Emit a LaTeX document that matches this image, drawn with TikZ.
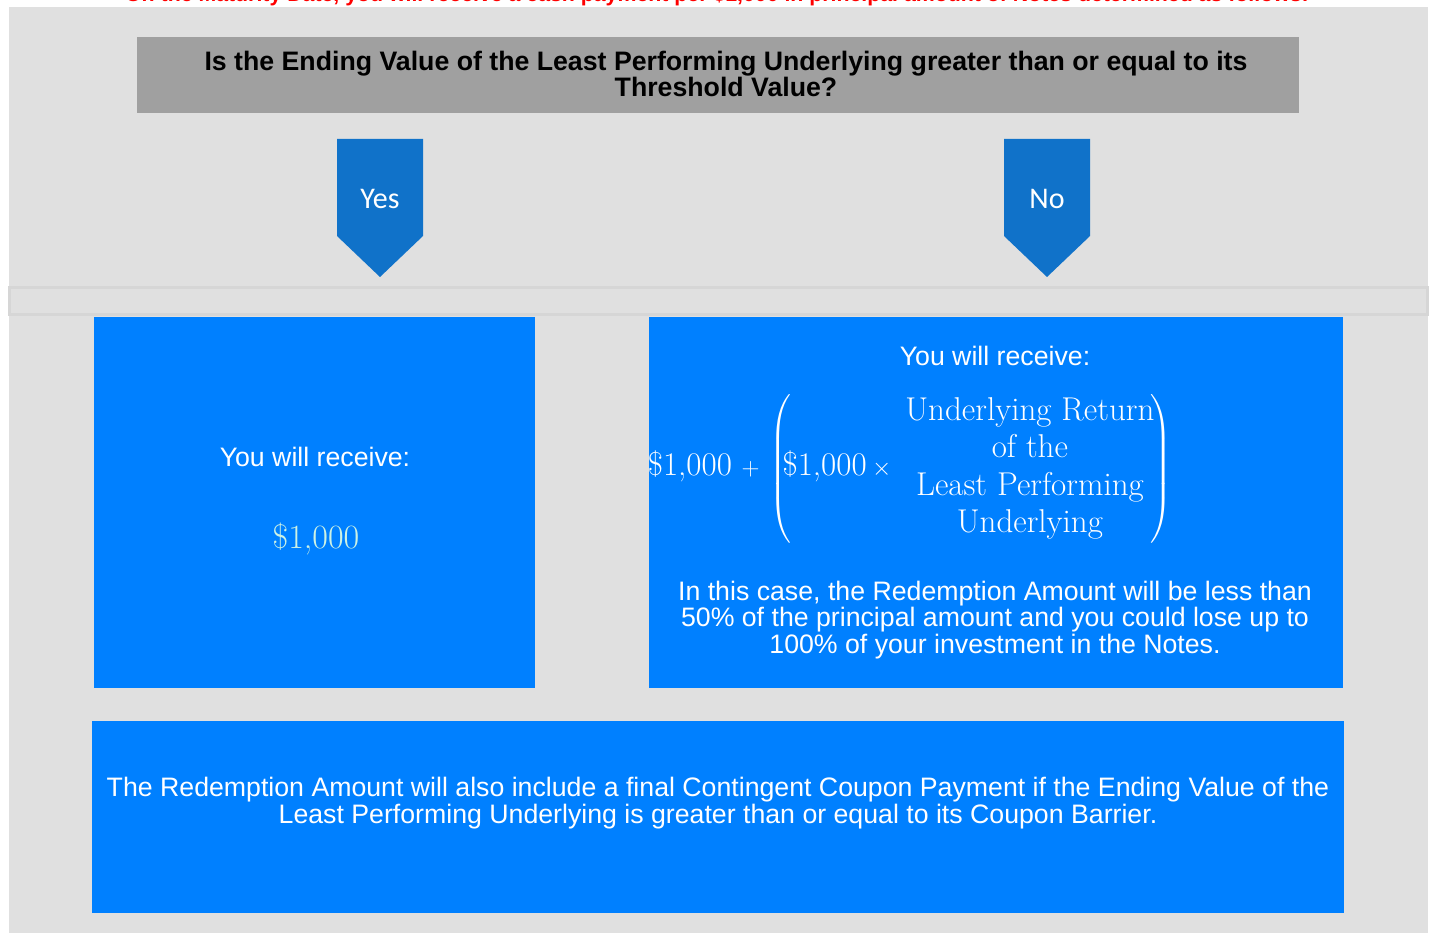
\documentclass[tikz,border=0pt]{standalone}
\usepackage{fontspec}
\usepackage{amsmath}
\newfontfamily\arialf{Liberation Sans}
\newfontfamily\calib{Carlito}
\definecolor{bggray}{RGB}{224,224,224}
\definecolor{bandline}{RGB}{214,214,214}
\definecolor{headgray}{RGB}{160,160,160}
\definecolor{arrowblue}{RGB}{16,114,201}
\definecolor{boxblue}{RGB}{0,128,255}
\definecolor{mint}{RGB}{205,242,228}
\definecolor{titlered}{RGB}{255,0,0}
\tikzset{
  bluebox/.style={fill=boxblue, draw=none, inner sep=0pt},
  txt/.style={text=white, inner sep=0pt, align=center, font=\arialf\fontsize{26.7}{26.5}\selectfont},
  pent/.style={fill=arrowblue, draw=none},
  lbl/.style={text=white, inner sep=0pt, font=\calib\fontsize{30}{32}\selectfont}
}
\begin{document}
\begin{tikzpicture}[x=1pt,y=-1pt]
\useasboundingbox (0,0) rectangle (1430,933);
\fill[white] (0,0) rectangle (1430,933);
\fill[bggray] (9,7) rectangle (1428,933);
% cut-off title
\node[anchor=base, inner sep=0pt, text=titlered, font=\arialf\bfseries\fontsize{21.3}{23}\selectfont] (title) at (717,2)
  {On the Maturity Date, you will receive a cash payment per \$1,000 in principal amount of Notes determined as follows:};
% header
\node[fill=headgray, minimum width=1162pt, minimum height=76pt, inner sep=0pt] (head) at (718,75) {};
\node[inner sep=0pt, align=center, text=black, font=\arialf\bfseries\fontsize{26.7}{26.5}\selectfont] (headtxt) at (726,74)
  {Is the Ending Value of the Least Performing Underlying greater than or equal to its\\Threshold Value?};
% arrows
\fill[pent] (337,139) -- (423,139) -- (423,236) -- (380,277) -- (337,236) -- cycle;
\node[lbl] (yes) at (380,199) {Yes};
\fill[pent] (1004,139) -- (1090,139) -- (1090,236) -- (1047,277) -- (1004,236) -- cycle;
\node[lbl] (no) at (1047,199) {No};
% band
\draw[draw=bandline, line width=3pt, fill=bggray] (9,287.5) rectangle (1427,314.5);
% left box
\node[bluebox, minimum width=441pt, minimum height=371pt] (leftbox) at (314.5,502.5) {};
\node[txt] (lrec) at (315,457) {You will receive:};
\node[inner sep=0pt, text=mint, font=\fontsize{34}{36}\selectfont] (lamt) at (316,539) {\$1,000};
% right box
\node[bluebox, minimum width=694pt, minimum height=371pt] (rightbox) at (996,502.5) {};
\node[txt] (rrec) at (995,356) {You will receive:};
\node[inner sep=0pt, text=white, font=\fontsize{33}{34}\selectfont] (formula) at (910,469)
  {\delimiterfactor=800 \delimitershortfall=15pt \arraycolsep=0pt
   $\text{\$1,000} \mskip3mu + \mskip3mu \left(\mskip-6mu\text{\$1,000} \times \mskip6mu
   \renewcommand{\arraystretch}{1.1}\begin{array}{c}
   \text{Underlying Return}\\ \text{of the}\\ \text{Least Performing}\\ \text{Underlying}
   \end{array}\mskip-3mu\right)$};
\node[txt] (rpar) at (995,620) {In this case, the Redemption Amount will be less than\\50\% of the principal amount and you could lose up to\\100\% of your investment in the Notes.};
% bottom box
\node[bluebox, minimum width=1252pt, minimum height=192pt] (botbox) at (718,817) {};
\node[txt] (bottxt) at (718,803) {The Redemption Amount will also include a final Contingent Coupon Payment if the Ending Value of the\\Least Performing Underlying is greater than or equal to its Coupon Barrier.};
\end{tikzpicture}
\end{document}
